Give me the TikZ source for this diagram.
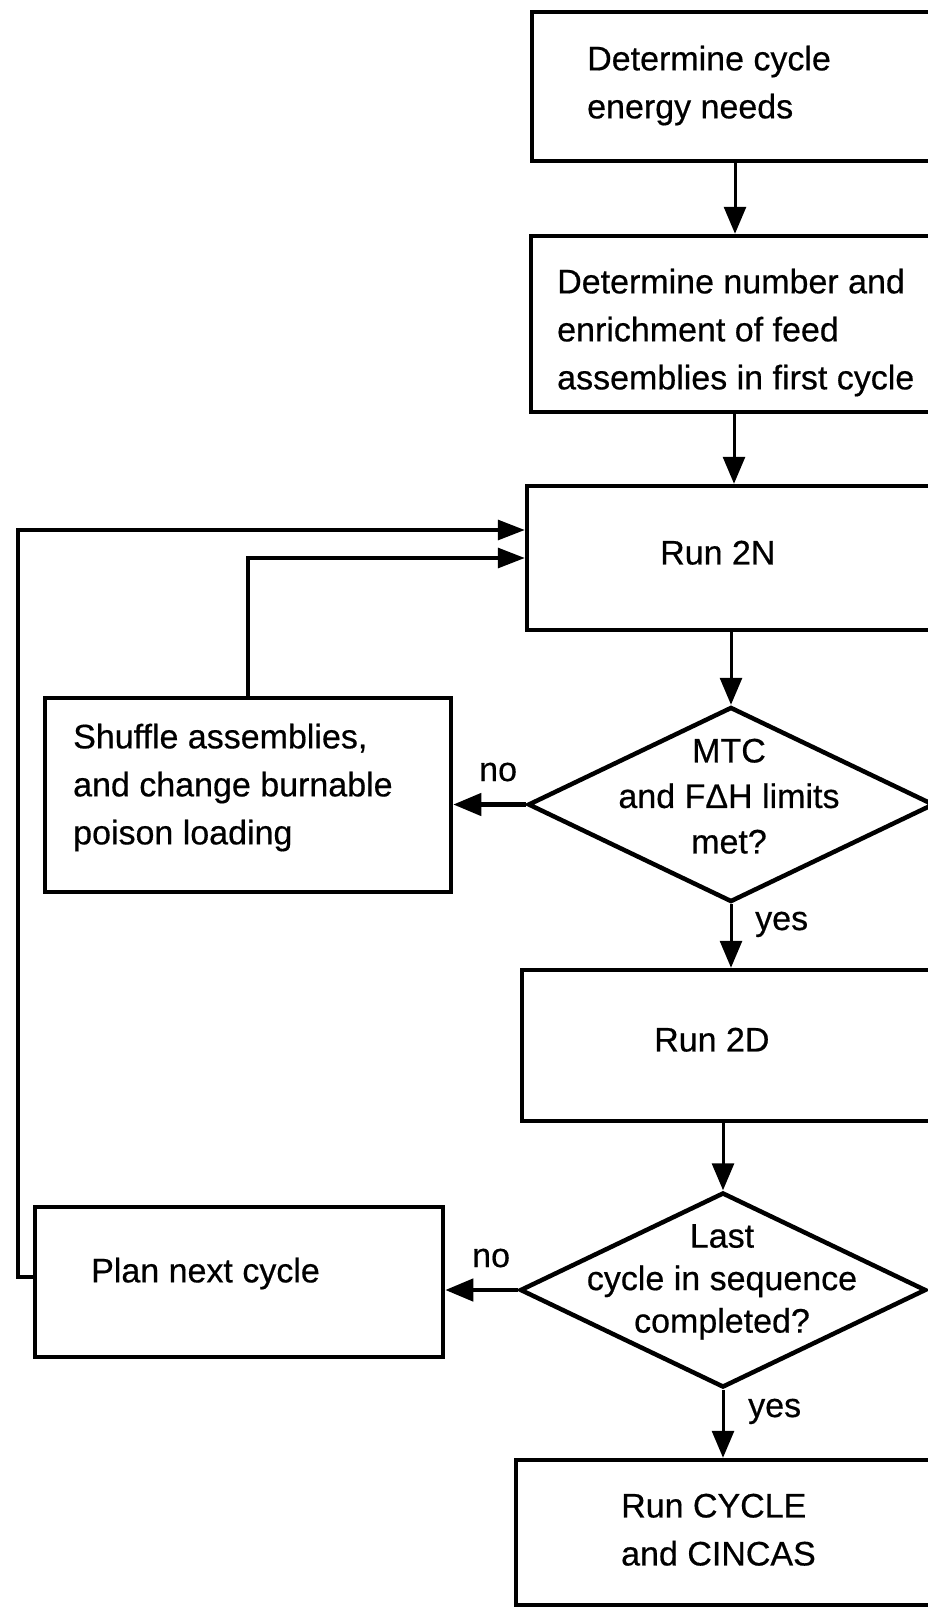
\documentclass[tikz,border=0pt]{standalone}
\usepackage{fontspec}
\setmainfont{Liberation Sans}[FakeBold=0.5]
\usetikzlibrary{arrows.meta,shapes.geometric}
\newcommand\fcfont{\fontsize{34}{48}\selectfont}
\newcommand\fcfontA{\fontsize{34}{45.5}\selectfont}
\newcommand\fcfontB{\fontsize{34}{42.5}\selectfont}
\begin{document}
\begin{tikzpicture}[x=1pt,y=-1pt,
  box/.style={draw,line width=4.5pt,rectangle,inner sep=0pt},
  dia/.style={draw,line width=4.5pt,diamond,inner sep=0pt,minimum width=406pt,minimum height=195pt},
  txt/.style={inner sep=0pt,align=left,anchor=north west,font=\fcfont},
  dtxt/.style={inner sep=0pt,align=center,anchor=north},
  lbl/.style={inner sep=0pt,anchor=base west,font=\fcfont},
  arr/.style={line width=3pt,-{Triangle[length=27pt,width=22pt]}},
  noarr/.style={line width=4.5pt,-{Triangle[length=28pt,width=22pt]}},
  looparr/.style={line width=3.2pt,-{Triangle[length=27pt,width=20pt]}}
]
\fill[white] (0,0) rectangle (928,1611);
\useasboundingbox (0,0) rectangle (928,1611);

\node[box,minimum width=402pt,minimum height=149pt] (b1) at (733,86.5) {};
\node[txt] (t1) at (587,45.5) {Determine cycle\\energy needs};
\node[box,minimum width=403pt,minimum height=176pt] (b2) at (732.5,324) {};
\node[txt] (t2) at (557,268.5) {Determine number and\\enrichment of feed\\assemblies in first cycle};
\node[box,minimum width=407pt,minimum height=144pt] (b3) at (730.5,558) {};
\node[txt] (t3) at (660,540.5) {Run 2N};
\node[dia] (d1) at (731,804.5) {};
\node[dtxt,font=\fcfontA] (td1) at (729,738.5) {MTC\\and FΔH limits\\met?};
\node[box,minimum width=406pt,minimum height=194pt] (sh) at (248,795) {};
\node[txt] (tsh) at (73,723.5) {Shuffle assemblies,\\and change burnable\\poison loading};
\node[box,minimum width=412pt,minimum height=151pt] (b4) at (728,1045.5) {};
\node[txt] (t4) at (654,1027.5) {Run 2D};
\node[dia] (d2) at (723,1290) {};
\node[dtxt,font=\fcfontB] (td2) at (722,1224) {Last\\cycle in sequence\\completed?};
\node[box,minimum width=408pt,minimum height=150pt] (pn) at (239,1282) {};
\node[txt] (tpn) at (91,1257.5) {Plan next cycle};
\node[box,minimum width=418pt,minimum height=145pt] (b5) at (725,1532.5) {};
\node[txt] (t5) at (621,1493.5) {Run CYCLE\\and CINCAS};

\node[lbl] (no1) at (479,781) {no};
\node[lbl] (yes1) at (755,930) {yes};
\node[lbl] (no2) at (472,1267) {no};
\node[lbl] (yes2) at (748,1417) {yes};

\coordinate (a1) at ([xshift=2pt]b1.south);
\draw[arr] (a1) -- (a1 |- b2.north);
\coordinate (a2) at ([xshift=1.5pt]b2.south);
\draw[arr] (a2) -- (a2 |- b3.north);
\draw[arr] (d1.north |- b3.south) -- (d1.north);
\draw[arr] (d1.south) -- (d1.south |- b4.north);
\draw[arr] (d2.north |- b4.south) -- (d2.north);
\draw[arr] (d2.south) -- (d2.south |- b5.north);
\draw[noarr] (d1.west) -- (d1.west -| sh.east);
\draw[noarr] (d2.west) -- (d2.west -| pn.east);
\draw[looparr] (sh.north) |- (b3.west);
\coordinate (lc) at (18,530);
\draw[looparr] ([yshift=5pt]pn.west) -| (lc) -- (lc -| b3.west);
\end{tikzpicture}
\end{document}
